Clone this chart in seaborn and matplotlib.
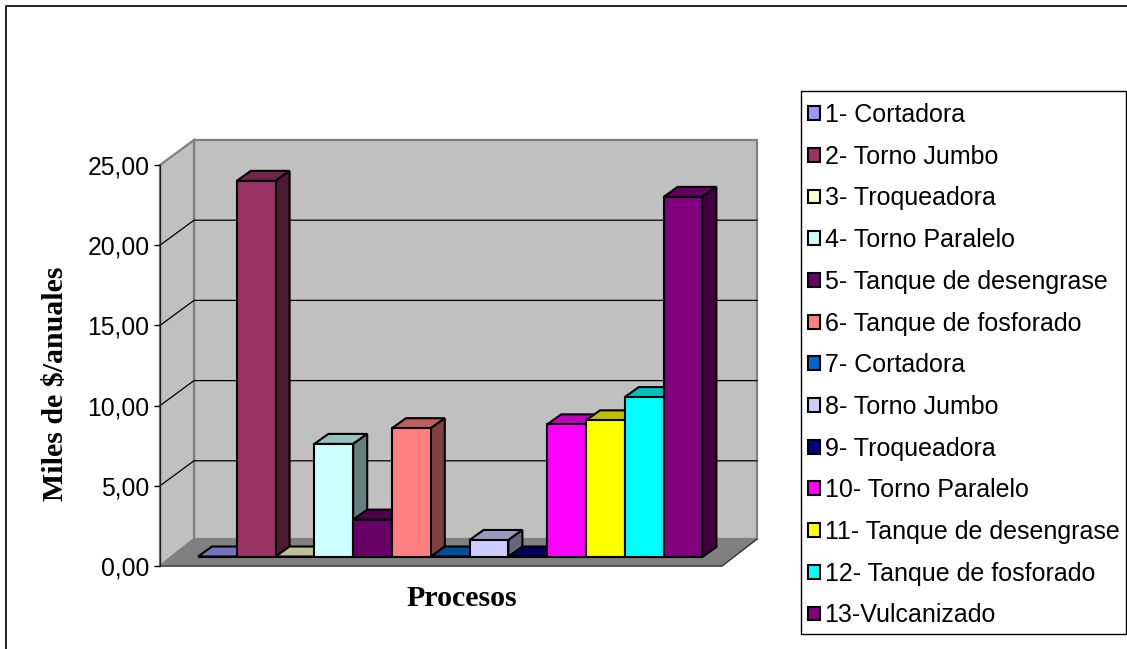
import matplotlib
matplotlib.use("Agg")
import numpy as np
import pandas as pd
import seaborn as sns
import matplotlib.pyplot as plt
from matplotlib.colors import to_rgb
from matplotlib.patches import Polygon, Rectangle
from matplotlib.transforms import IdentityTransform, offset_copy

##### data
procesos = ["1- Cortadora", "2- Torno Jumbo", "3- Troqueadora", "4- Torno Paralelo",
            "5- Tanque de desengrase", "6- Tanque de fosforado", "7- Cortadora",
            "8- Torno Jumbo", "9- Troqueadora", "10- Torno Paralelo",
            "11- Tanque de desengrase", "12- Tanque de fosforado", "13-Vulcanizado"]
valores = [0.03, 23.45, 0.03, 7.05, 2.33, 8.03, 0.03, 1.06, 0.03, 8.27, 8.52, 9.97, 22.45]
colores = ["#9999FF", "#993366", "#FFFFCC", "#CCFFFF", "#660066", "#FF8080", "#0066CC",
           "#CCCCFF", "#000080", "#FF00FF", "#FFFF00", "#00FFFF", "#800080"]
yticks = [0, 5, 10, 15, 20, 25]
ytick_labels = ["0,00", "5,00", "10,00", "15,00", "20,00", "25,00"]

W, H = 1127, 649
sns.set_theme(style="white")
plt.rcParams["font.family"] = ["Liberation Sans", "DejaVu Sans"]

df = pd.DataFrame({"proceso": procesos, "valor": valores})

fig = plt.figure(figsize=(W / 100, H / 100), dpi=100)
fig.patch.set_facecolor("white")
# front plane of the fake 3d box, pixels from the top left corner
left, right, top, bottom = 160, 722, 165, 566
ax = fig.add_axes([left / W, 1 - bottom / H, (right - left) / W, (bottom - top) / H])
ax.patch.set_visible(False)

sns.barplot(data=df, x="proceso", y="valor", hue="proceso", order=procesos,
            hue_order=procesos, palette=colores, dodge=False, width=1, saturation=1,
            edgecolor="black", linewidth=1.5, ax=ax, legend=True)

paso = 38.8
ax.set_xlim(-0.5 - (198 - left) / paso, 12.5 + (right - 702.4) / paso)
ax.set_ylim(0, 25)
ax.set_yticks(yticks)
ax.set_yticklabels(ytick_labels, fontsize=17.8, color="black")
ax.set_xticks([])
ax.set_xlabel("")
ax.set_ylabel("Miles de $/anuales", fontsize=21.5, fontweight="bold",
              fontfamily="Liberation Serif", color="black", labelpad=0)
ax.yaxis.set_label_coords((69 - left) / (right - left), 0.5 - (383.5 - (top + bottom) / 2) / (bottom - top))
ax.tick_params(axis="y", left=True, length=4, width=1, color="black", pad=3.6)
sns.despine(ax=ax, top=True, right=True, bottom=True)
ax.spines["left"].set_color("#202020")
ax.spines["left"].set_linewidth(0.9)

##### box walls
prof_x, prof_y = 34, 25   # box depth
back_l, back_r = left + prof_x, 757
back_t, back_b = 140, 539


def px(*pts):
    return [(x, H - y) for x, y in pts]


def add_poly(pts, **kw):
    fig.add_artist(Polygon(px(*pts), closed=True, transform=IdentityTransform(), **kw))


add_poly([(back_l, back_t), (back_r, back_t), (back_r, back_b), (back_l, back_b)],
         facecolor="#C0C0C0", edgecolor="#808080", linewidth=1.6, zorder=-5)
add_poly([(left, top), (back_l, back_t), (back_l, back_b), (left, bottom)],
         facecolor="#C0C0C0", edgecolor="#808080", linewidth=1.6, zorder=-5)
add_poly([(left, bottom), (back_l, back_b), (back_r, back_b), (right, bottom)],
         facecolor="#808080", edgecolor="#808080", linewidth=1, zorder=-4)
fig.add_artist(plt.Line2D([left, right, back_r], [H - bottom, H - bottom, H - back_b],
                          transform=IdentityTransform(), color="#303030", lw=0.9, zorder=-4))

for v in yticks[1:-1]:
    yp = ax.transData.transform((0, v))[1]
    fig.add_artist(plt.Line2D([left, back_l, back_r], [yp, yp + prof_y, yp + prof_y],
                              transform=IdentityTransform(), color="black", lw=0.9, zorder=-3))

##### bars: lift them to mid floor and add the top and side faces
bar_x, bar_y = 14, 10
lift = 9
oscuro = lambda c, f: tuple(f * k for k in to_rgb(c))
trans = offset_copy(ax.transData, fig=fig, x=0, y=lift, units="dots")
for i, cont in enumerate(ax.containers):
    for bar in cont:
        bar.set_transform(trans)
        bar.set_clip_on(False)
        bar.set_zorder(3 + i)
        bar.set_joinstyle("miter")
        x0, y0 = trans.transform((bar.get_x(), 0))
        x1, y1 = trans.transform((bar.get_x() + bar.get_width(), bar.get_height()))
        tapa = [(x0, y1), (x1, y1), (x1 + bar_x, y1 + bar_y), (x0 + bar_x, y1 + bar_y)]
        lado = [(x1, y0), (x1, y1), (x1 + bar_x, y1 + bar_y), (x1 + bar_x, y0 + bar_y)]
        for pts, f in ((tapa, 0.75), (lado, 0.5)):
            ax.add_patch(Polygon(pts, closed=True, transform=IdentityTransform(),
                                 facecolor=oscuro(colores[i], f), edgecolor="black",
                                 linewidth=1.5, clip_on=False, zorder=2.5 + i,
                                 joinstyle="miter"))

##### legend, the box is drawn apart to get its exact size
fig.add_artist(Rectangle((801, H - 634), 325, 543, transform=IdentityTransform(),
                         facecolor="white", edgecolor="black", linewidth=1, zorder=-1))
handles, labels = ax.get_legend_handles_labels()
leg = ax.legend(handles, labels, loc="upper left", bbox_to_anchor=(808 / W, 1 - 103 / H),
                bbox_transform=fig.transFigure, borderaxespad=0, borderpad=0, frameon=False,
                fontsize=18, handlelength=0.48, handleheight=0.48, handletextpad=0.18,
                labelspacing=0.708, labelcolor="black")
leg.set_zorder(50)

##### x title and chart border
fig.text(462 / W, 1 - 598 / H, "Procesos", ha="center", va="center", fontsize=21.5,
         fontweight="bold", fontfamily="Liberation Serif", color="black")
fig.add_artist(plt.Line2D([5.5, 5.5, W], [0, H - 5.5, H - 5.5], transform=IdentityTransform(),
                          color="#101010", lw=1.3, zorder=60))

fig.savefig("out.png", dpi=100)
